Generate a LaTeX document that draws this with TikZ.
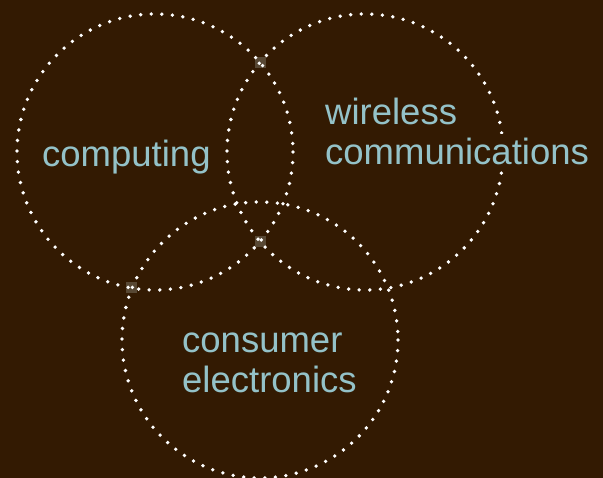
\documentclass[tikz,border=0pt]{standalone}
\usepackage{fontspec}
\setmainfont{Liberation Sans}

\definecolor{bgbrown}{RGB}{51,26,2}
\definecolor{labelblue}{RGB}{148,194,200}
\definecolor{crossgray}{RGB}{88,72,52}

\tikzset{
  dotcircle/.style = {white, line width=3.8pt, line cap=round, dash pattern=on 0pt off 10.6pt},
  vennlabel/.style = {anchor=base west, fill=bgbrown, inner sep=5pt, text=labelblue,
                      font=\fontsize{36.5}{40}\selectfont},
  crossmark/.style = {fill=crossgray}
}

\begin{document}
\begin{tikzpicture}[x=1pt, y=-1pt]
  \fill[bgbrown] (0,0) rectangle (603,478);
  \useasboundingbox (0,0) rectangle (603,478);

  \coordinate (cross1) at (260,62.5);
  \coordinate (cross2) at (260,241.5);
  \coordinate (cross3) at (131,288);

  \foreach \c in {cross1, cross2, cross3}
    \fill[crossmark] (\c) ++(-5.5,-5.5) rectangle ++(11,11);

  \draw[dotcircle] (155,152) circle (138);
  \draw[dotcircle] (365,152) circle (138);
  \draw[dotcircle] (260,340) circle (138);

  \node[vennlabel] (computing) at (37,167) {computing};
  \node[vennlabel] (wireless) at (320,125) {wireless};
  \node[vennlabel] (communications) at (320,165) {communications};
  \node[vennlabel] (consumer) at (177,353) {consumer};
  \node[vennlabel] (electronics) at (177,393) {electronics};
\end{tikzpicture}
\end{document}
